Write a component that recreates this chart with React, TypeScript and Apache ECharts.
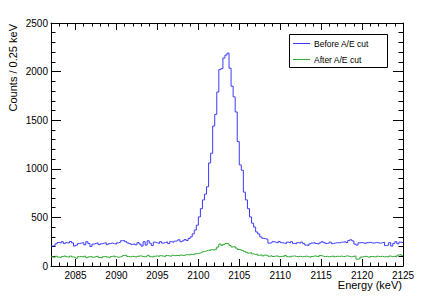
import React, { useEffect, useRef } from "react";
import * as echarts from "echarts";

// Histogram binning (keV)
const binStart = 2082;
const binWidth = 0.25;
const xMin = 2082;
const xMax = 2125;

// Counts per 0.25 keV bin, from 2082.00 to 2124.75 (172 bins)
const beforeCut = [
  // 2082.00 - 2086.75
  205, 210, 228, 242, 236, 250, 232, 240, 236, 252, 238, 205, 215, 232, 236, 240, 218, 250, 232, 200,
  // 2087.00 - 2091.75
  225, 232, 238, 220, 228, 235, 240, 222, 230, 236, 230, 226, 238, 245, 260, 262, 250, 238, 230, 222,
  // 2092.00 - 2096.75
  228, 218, 240, 226, 205, 250, 215, 260, 235, 210, 245, 238, 232, 250, 236, 242, 248, 230, 250, 244,
  // 2097.00 - 2101.75
  255, 262, 270, 250, 258, 272, 262, 282, 300, 330, 370, 420, 505, 590, 680, 740, 815, 1060, 1160, 1440,
  // 2102.00 - 2106.75
  1560, 1790, 2020, 2030, 2140, 2170, 2190, 2035, 1850, 1740, 1585, 1280, 1040, 985, 760, 680, 590, 505, 440, 400,
  // 2107.00 - 2111.75
  350, 330, 300, 285, 280, 275, 235, 240, 250, 245, 238, 252, 240, 236, 230, 245, 238, 250, 232, 228,
  // 2112.00 - 2116.75
  240, 235, 245, 230, 215, 212, 228, 236, 240, 232, 226, 238, 250, 240, 232, 236, 245, 230, 236, 240,
  // 2117.00 - 2121.75
  238, 244, 246, 250, 242, 262, 270, 258, 225, 215, 238, 242, 236, 232, 240, 244, 238, 236, 242, 240,
  // 2122.00 - 2124.75
  234, 240, 245, 210, 215, 240, 205, 232, 250, 228, 245, 240,
];

const afterCut = [
  // 2082.00 - 2086.75
  95, 88, 100, 92, 85, 98, 105, 96, 90, 102, 94, 88, 80, 96, 98, 92, 100, 86, 94, 98,
  // 2087.00 - 2091.75
  90, 96, 102, 88, 84, 95, 100, 92, 86, 98, 104, 96, 90, 94, 100, 108, 112, 98, 94, 100,
  // 2092.00 - 2096.75
  96, 92, 100, 105, 98, 94, 100, 110, 96, 92, 100, 104, 98, 106, 102, 96, 108, 104, 100, 110,
  // 2097.00 - 2101.75
  106, 110, 104, 112, 108, 114, 118, 112, 120, 116, 125, 128, 133, 140, 148, 155, 162, 160, 168, 164,
  // 2102.00 - 2106.75
  172, 195, 226, 212, 222, 232, 228, 210, 196, 200, 185, 170, 168, 160, 150, 140, 132, 138, 125, 118,
  // 2107.00 - 2111.75
  122, 110, 116, 104, 112, 108, 100, 106, 98, 102, 104, 96, 100, 98, 108, 96, 92, 100, 104, 98,
  // 2112.00 - 2116.75
  96, 100, 94, 98, 102, 96, 90, 98, 104, 100, 95, 108, 102, 96, 100, 94, 98, 104, 96, 100,
  // 2117.00 - 2121.75
  98, 102, 96, 100, 105, 98, 94, 100, 102, 70, 74, 92, 96, 100, 94, 90, 98, 96, 92, 100,
  // 2122.00 - 2124.75
  96, 100, 94, 98, 92, 102, 96, 100, 94, 112, 118, 110,
];

const xMajorTicks = [2085, 2090, 2095, 2100, 2105, 2110, 2115, 2120, 2125];
const xMinorTicks = [
  2083, 2084, 2086, 2087, 2088, 2089, 2091, 2092, 2093, 2094, 2096, 2097, 2098, 2099,
  2101, 2102, 2103, 2104, 2106, 2107, 2108, 2109, 2111, 2112, 2113, 2114, 2116, 2117,
  2118, 2119, 2121, 2122, 2123, 2124,
];

const seriesNames = ["Before A/E cut", "After A/E cut"];
const seriesColors = ["#3a3aff", "#2ea82e"];

const FONT = "Liberation Sans, Arial, Helvetica, sans-serif";

function toSteps(counts: number[]): [number, number][] {
  const pts: [number, number][] = counts.map((c, i) => [binStart + i * binWidth, c]);
  pts.push([binStart + counts.length * binWidth, counts[counts.length - 1]]);
  return pts;
}

const plain = (v: number) => String(v);

export default function App() {
  const ref = useRef<HTMLDivElement>(null);

  useEffect(() => {
    if (!ref.current) return;
    const chart = echarts.init(ref.current, undefined, { renderer: "svg" });

    const baseX = {
      type: "value" as const,
      min: xMin,
      max: xMax,
      splitLine: { show: false },
    };
    const baseY = {
      type: "value" as const,
      min: 0,
      max: 2500,
      interval: 500,
      splitLine: { show: false },
      minorSplitLine: { show: false },
    };

    chart.setOption({
      animation: false,
      backgroundColor: "#ffffff",
      grid: { left: 51, top: 23, width: 352, height: 243, containLabel: false },
      xAxis: [
        {
          ...baseX,
          position: "bottom",
          axisLine: { show: true, lineStyle: { color: "#000", width: 1 } },
          axisTick: { show: true, inside: true, length: 7, customValues: xMajorTicks, lineStyle: { color: "#000" } },
          axisLabel: { show: true, customValues: xMajorTicks, formatter: plain, margin: 4, fontSize: 10, color: "#000", fontFamily: FONT },
        },
        {
          ...baseX,
          position: "bottom",
          axisLine: { show: false },
          axisTick: { show: true, inside: true, length: 3.5, customValues: xMinorTicks, lineStyle: { color: "#000" } },
          axisLabel: { show: false },
        },
        {
          ...baseX,
          position: "top",
          axisLine: { show: true, lineStyle: { color: "#000", width: 1 } },
          axisTick: { show: true, inside: true, length: 7, customValues: xMajorTicks, lineStyle: { color: "#000" } },
          axisLabel: { show: false },
        },
        {
          ...baseX,
          position: "top",
          axisLine: { show: false },
          axisTick: { show: true, inside: true, length: 3.5, customValues: xMinorTicks, lineStyle: { color: "#000" } },
          axisLabel: { show: false },
        },
      ],
      yAxis: [
        {
          ...baseY,
          position: "left",
          axisLine: { show: true, lineStyle: { color: "#000", width: 1 } },
          axisTick: { show: true, inside: true, length: 10, lineStyle: { color: "#000" } },
          minorTick: { show: true, splitNumber: 5, length: 4.5, lineStyle: { color: "#000" } },
          axisLabel: { show: true, formatter: plain, margin: 3, fontSize: 10, color: "#000", fontFamily: FONT },
        },
        {
          ...baseY,
          position: "right",
          axisLine: { show: true, lineStyle: { color: "#000", width: 1 } },
          axisTick: { show: true, inside: true, length: 10, lineStyle: { color: "#000" } },
          minorTick: { show: true, splitNumber: 5, length: 4.5, lineStyle: { color: "#000" } },
          axisLabel: { show: false },
        },
      ],
      series: [
        {
          name: seriesNames[0],
          type: "line",
          step: "end",
          xAxisIndex: 0,
          yAxisIndex: 0,
          symbol: "none",
          lineStyle: { color: seriesColors[0], width: 1 },
          data: toSteps(beforeCut),
        },
        {
          name: seriesNames[1],
          type: "line",
          step: "end",
          xAxisIndex: 0,
          yAxisIndex: 0,
          symbol: "none",
          lineStyle: { color: seriesColors[1], width: 1 },
          data: toSteps(afterCut),
        },
      ],
      graphic: [
        {
          type: "text",
          x: 402,
          y: 285,
          style: { text: "Energy (keV)", align: "right", verticalAlign: "middle", fill: "#000", font: `11px ${FONT}` },
        },
        {
          type: "text",
          x: 13,
          y: 24,
          rotation: Math.PI / 2,
          style: { text: "Counts / 0.25 keV", align: "right", verticalAlign: "middle", fill: "#000", font: `11px ${FONT}` },
        },
        {
          type: "rect",
          shape: { x: 289.5, y: 34.5, width: 98, height: 33 },
          style: { fill: "#fff", stroke: "#000", lineWidth: 1 },
          z: 10,
        },
        {
          type: "line",
          shape: { x1: 293, y1: 43.5, x2: 310, y2: 43.5 },
          style: { stroke: seriesColors[0], lineWidth: 1 },
          z: 11,
        },
        {
          type: "line",
          shape: { x1: 293, y1: 59.5, x2: 310, y2: 59.5 },
          style: { stroke: seriesColors[1], lineWidth: 1 },
          z: 11,
        },
        {
          type: "text",
          x: 314,
          y: 43.5,
          z: 11,
          style: { text: seriesNames[0], align: "left", verticalAlign: "middle", fill: "#000", font: `8.5px ${FONT}` },
        },
        {
          type: "text",
          x: 314,
          y: 59.5,
          z: 11,
          style: { text: seriesNames[1], align: "left", verticalAlign: "middle", fill: "#000", font: `8.5px ${FONT}` },
        },
      ],
    });

    return () => chart.dispose();
  }, []);

  return (
    <div
      ref={ref}
      style={{ position: "fixed", left: 0, top: 0, width: 424, height: 303, background: "#fff" }}
    />
  );
}
